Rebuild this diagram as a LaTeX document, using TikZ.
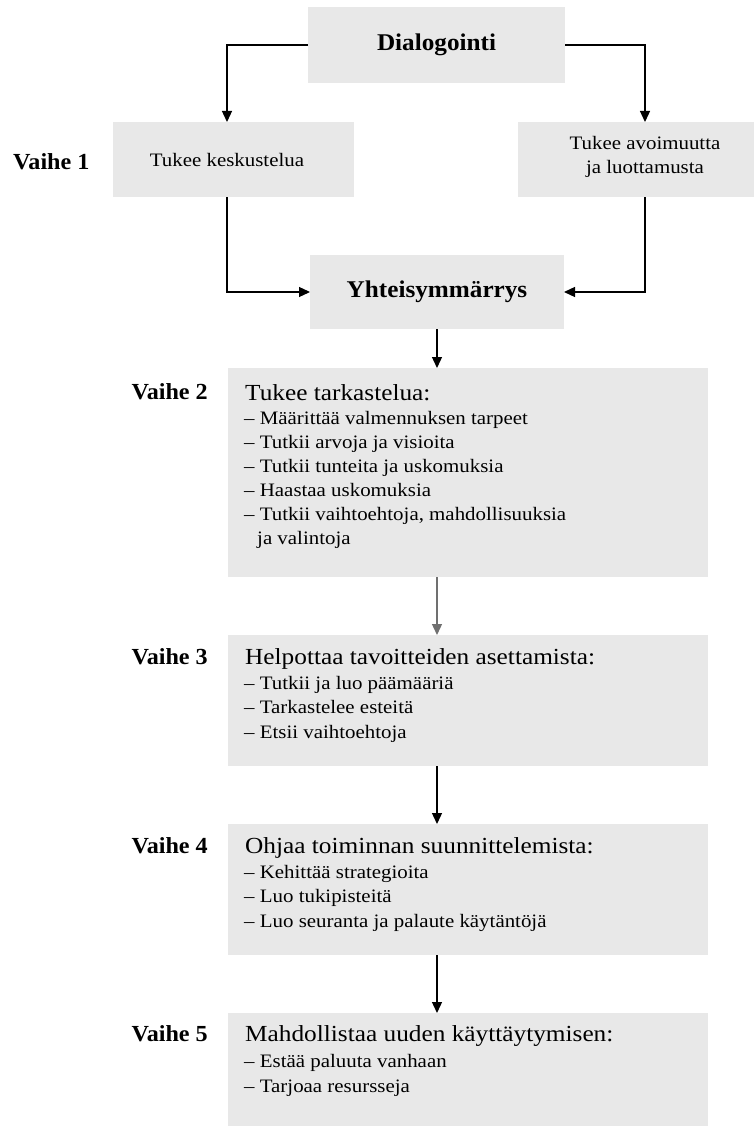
\documentclass[tikz,border=0pt]{standalone}
\usepackage{fontspec}
\setmainfont{Liberation Serif}
\newfontfamily\wideserif{Liberation Serif}[FakeStretch=1.1]
\newfontfamily\headserif{Liberation Serif}[FakeStretch=1.05]
\usetikzlibrary{arrows.meta}
\definecolor{boxgray}{HTML}{E8E8E8}
\definecolor{arrowgray}{HTML}{707070}

\begin{document}
\begin{tikzpicture}[x=1pt,y=-1pt,
  box/.style={fill=boxgray, inner sep=0pt, outer sep=0pt, anchor=north west},
  conn/.style={line width=1.3pt, -{Triangle[width=10pt,length=11pt]}},
  head/.style={font=\headserif\fontsize{24}{28}\selectfont\bfseries},
  lbl/.style={font=\headserif\fontsize{23}{27}\selectfont\bfseries, inner sep=0pt},
  small/.style={font=\wideserif\fontsize{19}{24}\selectfont, inner sep=0pt, align=center},
  ttl/.style={font=\wideserif\fontsize{23}{27}\selectfont, inner sep=0pt, anchor=base west},
  itm/.style={font=\wideserif\fontsize{19}{24}\selectfont, inner sep=0pt, anchor=base west},
]
\useasboundingbox (0,0) rectangle (754,1126);
\fill[white] (0,0) rectangle (754,1126);

% top part
\node[box, head, minimum width=257pt, minimum height=76pt] (dia) at (308,7) {Dialogointi};
\node[box, minimum width=241pt, minimum height=75pt] (k1) at (113,122) {};
\node[small] (k1t) at (227,160) {Tukee keskustelua};
\node[box, minimum width=236pt, minimum height=75pt] (k2) at (518,122) {};
\node[small] (k2t) at (645,157) {Tukee avoimuutta\\ja luottamusta};
\node[lbl, anchor=west] (s1) at (13,162) {Vaihe 1};
\node[box, head, minimum width=254pt, minimum height=74pt] (yht) at (310,255) {Yhteisymmärrys};

% phase boxes
\node[box, minimum width=480pt, minimum height=209pt] (v2) at (228,368) {};
\node[box, minimum width=480pt, minimum height=131pt] (v3) at (228,635) {};
\node[box, minimum width=480pt, minimum height=131pt] (v4) at (228,824) {};
\node[box, minimum width=480pt, minimum height=113pt] (v5) at (228,1013) {};

% phase labels
\node[lbl, anchor=east] (s2) at (208,392) {Vaihe 2};
\node[lbl, anchor=east] (s3) at (208,657) {Vaihe 3};
\node[lbl, anchor=east] (s4) at (208,846) {Vaihe 4};
\node[lbl, anchor=east] (s5) at (208,1034) {Vaihe 5};

% phase 2 text
\node[ttl] (v2h) at (245,400) {Tukee tarkastelua:};
\foreach \t [count=\i] in {Määrittää valmennuksen tarpeet, Tutkii arvoja ja visioita,
    Tutkii tunteita ja uskomuksia, Haastaa uskomuksia,
    {Tutkii vaihtoehtoja, mahdollisuuksia}}
  \node[itm] (v2l\i) at (244,{424+24*(\i-1)}) {– \t};
\node[itm] (v2l6) at (257,544) {ja valintoja};

% phase 3 text
\node[ttl] (v3h) at (245,664) {Helpottaa tavoitteiden asettamista:};
\foreach \t [count=\i] in {Tutkii ja luo päämääriä, Tarkastelee esteitä, Etsii vaihtoehtoja}
  \node[itm] (v3l\i) at (244,{689+24.5*(\i-1)}) {– \t};

% phase 4 text
\node[ttl] (v4h) at (245,853) {Ohjaa toiminnan suunnittelemista:};
\foreach \t [count=\i] in {Kehittää strategioita, Luo tukipisteitä, Luo seuranta ja palaute käytäntöjä}
  \node[itm] (v4l\i) at (244,{878+24.5*(\i-1)}) {– \t};

% phase 5 text
\node[ttl] (v5h) at (245,1041) {Mahdollistaa uuden käyttäytymisen:};
\foreach \t [count=\i] in {Estää paluuta vanhaan, Tarjoaa resursseja}
  \node[itm] (v5l\i) at (244,{1067+25*(\i-1)}) {– \t};

% connectors
\draw[conn] (dia.west) -| (k1t |- k1.north);
\draw[conn] (dia.east) -| (k2t |- k2.north);
\draw[conn] (k1t |- k1.south) |- (yht.west);
\draw[conn] (k2t |- k2.south) |- (yht.east);
\draw[conn] (yht.south) -- (yht.south |- v2.north);
\draw[conn, arrowgray] (yht.south |- v2.south) -- (yht.south |- v3.north);
\draw[conn] (yht.south |- v3.south) -- (yht.south |- v4.north);
\draw[conn] (yht.south |- v4.south) -- (yht.south |- v5.north);
\end{tikzpicture}
\end{document}
